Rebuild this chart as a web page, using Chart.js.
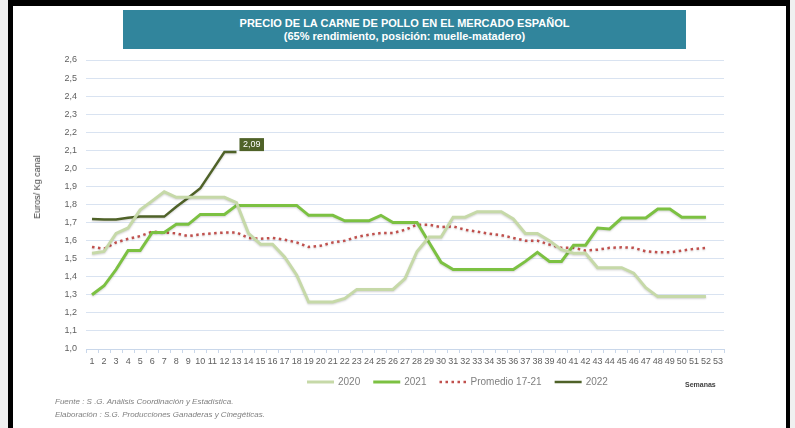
<!DOCTYPE html>
<html>
<head>
<meta charset="utf-8">
<script src="https://cdn.jsdelivr.net/npm/chart.js@4.4.0/dist/chart.umd.min.js"></script>
<style>
html, body { margin: 0; padding: 0; background: #f0f0f0; }
#marco { position: absolute; left: 8px; top: 0; width: 782px; height: 428px; background: #fff;
  border-left: 5px solid #000; border-right: 4px solid #000; border-top: 6px solid #000; box-sizing: border-box; }
#grafico { position: absolute; left: 0; top: 0; }
#titulo { position: absolute; left: 123px; top: 10px; width: 563px; height: 39px; background: #31859c;
  color: #fff; font: bold 11px "Liberation Sans", Arial, sans-serif; line-height: 13px; text-align: center;
  display: flex; flex-direction: column; justify-content: center; }
#ejeY { position: absolute; left: 37px; top: 187px; transform: translate(-50%, -50%) rotate(-90deg);
  font: 9px "Liberation Sans", Arial, sans-serif; color: #404040; white-space: nowrap; }
#notas { position: absolute; left: 55px; top: 396px; font: italic 8px "Liberation Sans", Arial, sans-serif;
  line-height: 12.5px; color: #7f7f7f; }
</style>
</head>
<body>
<div id="marco"></div>
<canvas id="grafico" width="795" height="428"></canvas>
<div id="titulo"><div>PRECIO DE LA CARNE DE POLLO EN EL MERCADO ESPAÑOL</div><div>(65% rendimiento, posición: muelle-matadero)</div></div>
<div id="ejeY">Euros/ Kg canal</div>
<div id="notas">Fuente : S .G. Análisis Coordinación y Estadística.<br>Elaboración : S.G. Producciones Ganaderas y Cinegéticas.</div>
<script>
const semanas = ['1','2','3','4','5','6','7','8','9','10','11','12','13','14','15','16','17','18','19','20',
  '21','22','23','24','25','26','27','28','29','30','31','32','33','34','35','36','37','38','39','40',
  '41','42','43','44','45','46','47','48','49','50','51','52','53'];

const precios2020 = [1.53, 1.54, 1.64, 1.67, 1.77, 1.82, 1.87, 1.84, 1.84, 1.84, 1.84, 1.84, 1.81, 1.64, 1.58, 1.58,
  1.51, 1.41, 1.26, 1.26, 1.26, 1.28, 1.33, 1.33, 1.33, 1.33, 1.39, 1.54, 1.62, 1.62, 1.73, 1.73, 1.76, 1.76, 1.76,
  1.72, 1.64, 1.64, 1.60, 1.55, 1.53, 1.53, 1.45, 1.45, 1.45, 1.42, 1.34, 1.29, 1.29, 1.29, 1.29, 1.29];

const precios2021 = [1.30, 1.35, 1.44, 1.545, 1.545, 1.645, 1.645, 1.69, 1.69, 1.745, 1.745, 1.745, 1.795, 1.795,
  1.795, 1.795, 1.795, 1.795, 1.74, 1.74, 1.74, 1.71, 1.71, 1.71, 1.74, 1.70, 1.70, 1.70, 1.59, 1.48, 1.44, 1.44,
  1.44, 1.44, 1.44, 1.44, 1.485, 1.535, 1.485, 1.485, 1.575, 1.575, 1.67, 1.665, 1.725, 1.725, 1.725, 1.775, 1.775,
  1.73, 1.73, 1.73];

const promedio1721 = [1.565, 1.555, 1.59, 1.61, 1.625, 1.65, 1.645, 1.64, 1.625, 1.635, 1.64, 1.645, 1.645, 1.615,
  1.61, 1.615, 1.605, 1.59, 1.565, 1.572, 1.59, 1.60, 1.62, 1.633, 1.642, 1.642, 1.66, 1.688, 1.688, 1.675, 1.679,
  1.66, 1.65, 1.638, 1.63, 1.615, 1.60, 1.60, 1.578, 1.56, 1.56, 1.545, 1.55, 1.56, 1.563, 1.56, 1.541, 1.535,
  1.535, 1.545, 1.554, 1.56];

const precios2022 = [1.72, 1.717, 1.717, 1.727, 1.733, 1.733, 1.733, 1.787, 1.837, 1.89, 1.99, 2.09, 2.09];

const fuente = '"Liberation Sans", Arial, sans-serif';
Chart.defaults.font.family = fuente;

function formatoComa(v, dec) {
    return Number(v).toFixed(dec).replace('.', ',');
}

// sombra suave de las lineas, como en la hoja original
const sombra = {
    id: 'sombra',
    beforeDatasetsDraw(chart) {
        const ctx = chart.ctx;
        ctx.save();
        ctx.shadowColor = 'rgba(0,0,0,0.18)';
        ctx.shadowBlur = 2;
        ctx.shadowOffsetY = 1;
    },
    afterDatasetsDraw(chart) {
        chart.ctx.restore();
    }
};

// leyenda, rótulo "Semanas" y etiqueta del último dato de 2022
const extras = {
    id: 'extras',
    afterDraw(chart) {
        const ctx = chart.ctx;
        ctx.save();
        ctx.font = '10px ' + fuente;
        ctx.textBaseline = 'middle';
        let x = 307;
        const y = 382;
        chart.data.datasets.forEach(ds => {
            ctx.beginPath();
            ctx.strokeStyle = ds.borderColor;
            ctx.lineWidth = ds.borderWidth;
            ctx.lineCap = ds.borderCapStyle || 'butt';
            ctx.setLineDash(ds.borderDash || []);
            ctx.moveTo(x, y);
            ctx.lineTo(x + 27, y);
            ctx.stroke();
            ctx.setLineDash([]);
            ctx.fillStyle = '#7f7f7f';
            ctx.fillText(ds.label, x + 31, y);
            x += 31 + ctx.measureText(ds.label).width + 13;
        });

        ctx.font = 'bold 7px ' + fuente;
        ctx.fillStyle = '#404040';
        ctx.fillText('Semanas', 685, 385);

        const meta = chart.getDatasetMeta(3);
        const ult = meta.data[meta.data.length - 1];
        const txt = formatoComa(precios2022[precios2022.length - 1], 2);
        ctx.font = '9px ' + fuente;
        const w = ctx.measureText(txt).width + 7;
        ctx.fillStyle = '#4f6228';
        ctx.fillRect(ult.x + 3, ult.y - 14, w, 13);
        ctx.fillStyle = '#fff';
        ctx.fillText(txt, ult.x + 6.5, ult.y - 7.5);
        ctx.restore();
    }
};

new Chart(document.getElementById('grafico'), {
    type: 'line',
    data: {
        labels: semanas,
        datasets: [
            { label: '2020', data: precios2020, borderColor: '#c6d9a8', borderWidth: 3 },
            { label: '2021', data: precios2021, borderColor: '#7cc142', borderWidth: 3 },
            { label: 'Promedio 17-21', data: promedio1721, borderColor: '#c0504d', borderWidth: 2.5,
              borderDash: [2.5, 3.5] },
            { label: '2022', data: precios2022, borderColor: '#4f6228', borderWidth: 2.5 }
        ]
    },
    options: {
        responsive: false,
        animation: false,
        devicePixelRatio: 1,
        elements: { point: { radius: 0 }, line: { tension: 0, fill: false } },
        layout: { padding: { left: 0, right: 71, top: 60, bottom: 59 } },
        plugins: { legend: { display: false }, tooltip: { enabled: false } },
        scales: {
            x: {
                offset: true,
                grid: { offset: true, drawOnChartArea: false, drawTicks: true, tickLength: 4, color: '#c9d7ea' },
                border: { display: true, color: '#c9d7ea' },
                ticks: { autoSkip: false, maxRotation: 0, minRotation: 0, padding: 3, color: '#606060', font: { size: 9 } },
                afterFit(s) { s.height = 20; }
            },
            y: {
                min: 1.0,
                max: 2.6,
                grid: { color: '#d9e3f1', drawTicks: false },
                border: { display: false },
                ticks: { stepSize: 0.1, padding: 9, color: '#606060', font: { size: 9 },
                    callback: v => formatoComa(v, 1) },
                afterFit(s) { s.width = 86; }
            }
        }
    },
    plugins: [sombra, extras]
});
</script>
</body>
</html>
